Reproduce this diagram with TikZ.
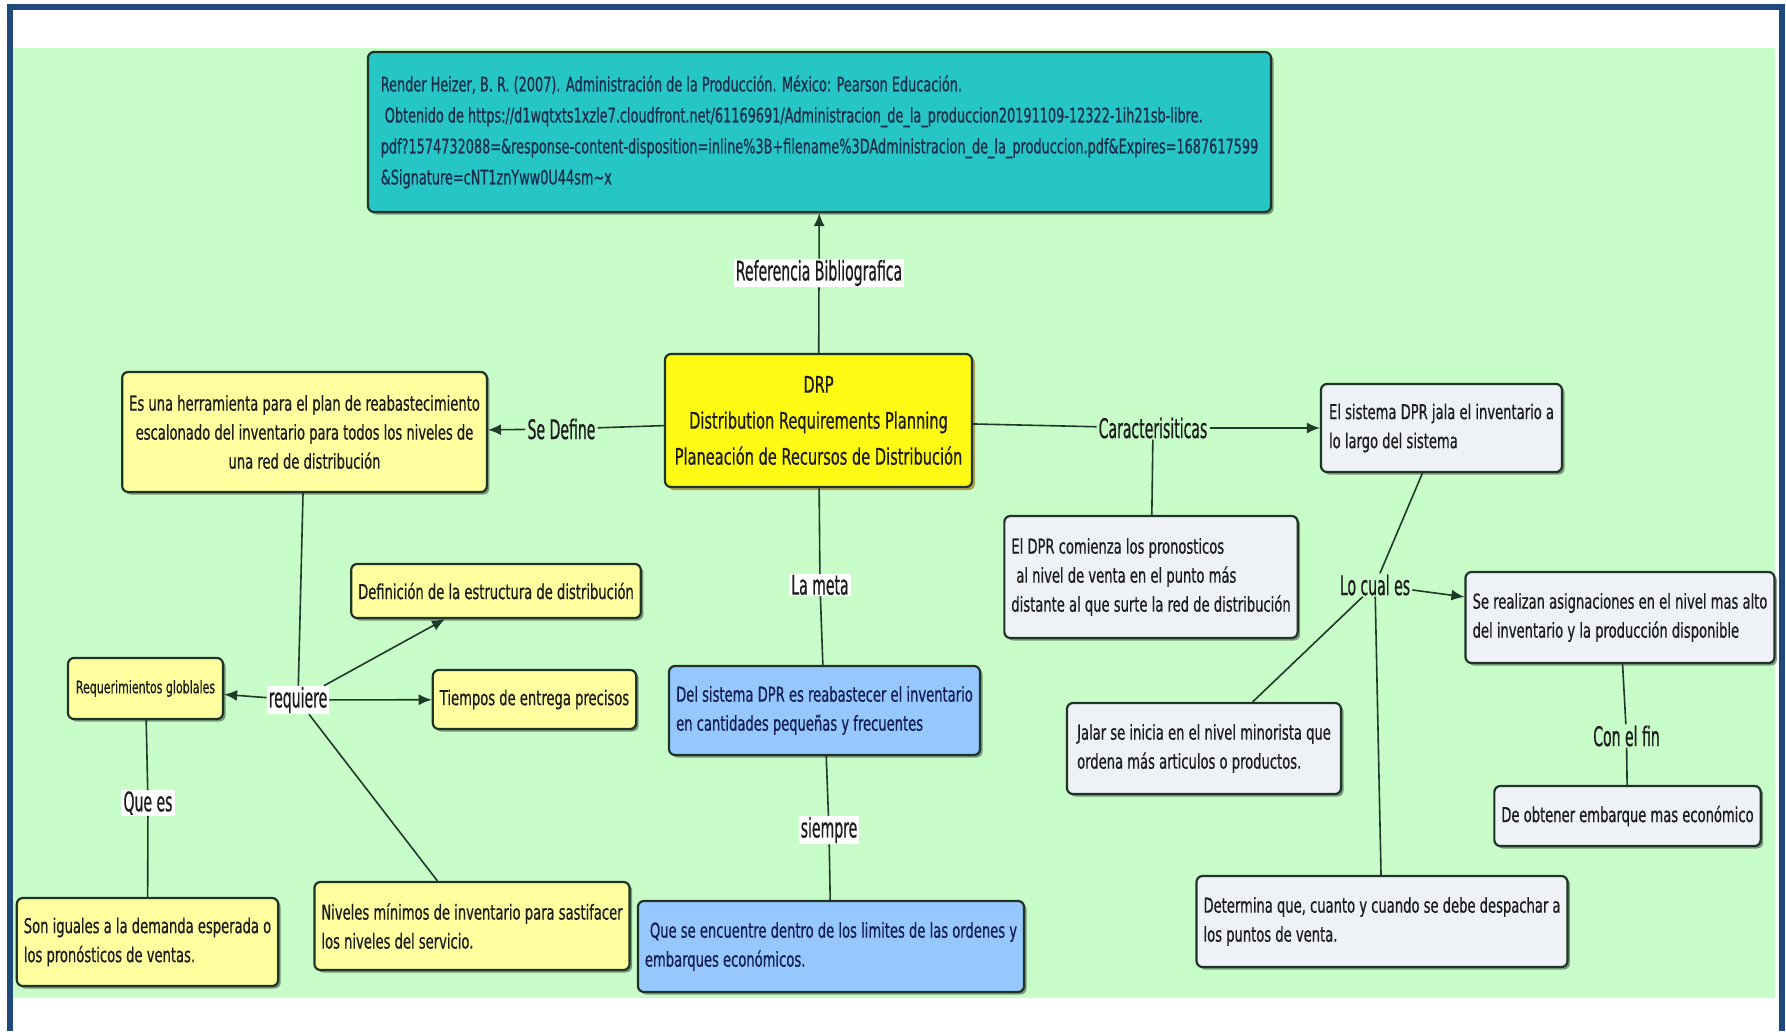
\documentclass[tikz,border=0pt]{standalone}
\usepackage{fontspec}
\setmainfont{DejaVu Sans}[FakeStretch=0.64, UprightFeatures={FakeBold=0.6}]
\newfontfamily\phrasefamily{DejaVu Sans}[FakeStretch=0.52, UprightFeatures={FakeBold=0.6}]
\usetikzlibrary{arrows.meta,shadows}

\definecolor{frameblue}{RGB}{31,73,125}
\definecolor{mapbg}{RGB}{200,252,200}
\definecolor{refteal}{RGB}{38,198,198}
\definecolor{drpyellow}{RGB}{255,250,20}
\definecolor{paleyellow}{RGB}{255,255,160}
\definecolor{paleblue}{RGB}{150,200,255}
\definecolor{palegray}{RGB}{238,242,246}
\definecolor{boxline}{RGB}{30,52,38}
\definecolor{wire}{RGB}{30,58,40}
\definecolor{ink}{RGB}{28,28,28}
\definecolor{refink}{RGB}{25,45,75}
\definecolor{blueink}{RGB}{20,30,80}
\definecolor{drpshade}{RGB}{160,120,30}

\newcommand\mapfont{\fontsize{20.5pt}{29pt}\selectfont}
\newcommand\drpfont{\fontsize{22.8pt}{36pt}\selectfont}
\newcommand\reffont{\fontsize{20.1pt}{31pt}\selectfont}
\newcommand\globfont{\fontsize{17.2pt}{20pt}\selectfont}
\newcommand\lblfont{\phrasefamily\fontsize{27pt}{30pt}\selectfont}

\begin{document}
\begin{tikzpicture}[x=1pt,y=-1pt,
  plainbox/.style={draw=boxline, line width=2.2pt, rounded corners=6pt,
    inner xsep=7pt, inner ysep=3pt, font=\mapfont, text=ink},
  concept/.style={plainbox, drop shadow={shadow xshift=2.5pt, shadow yshift=-2.5pt, opacity=0.4, fill=black}},
  hub/.style={plainbox, drop shadow={shadow xshift=3pt, shadow yshift=-3pt, opacity=0.7, fill=drpshade}},
  lbl/.style={fill=white, inner xsep=2pt, inner ysep=1pt, font=\lblfont, text=ink},
  lblg/.style={lbl, fill=mapbg},
  link/.style={draw=wire, line width=1.6pt},
  arr/.style={link, -{Latex[length=13pt,width=11pt]}},
]
\useasboundingbox (0,0) rectangle (1786,1031);
\fill[white] (0,0) rectangle (1786,1031);
\fill[mapbg] (13,48) rectangle (1775,998);
\draw[frameblue, line width=6pt] (9.5,1031) -- (9.5,6.5) -- (1781.5,6.5) -- (1781.5,1031);

% concepts
\node[concept, fill=refteal, text=refink, font=\reffont, align=left,
  minimum width=903pt, minimum height=160pt, inner xsep=5pt] (ref) at (819.5,132)
  {Render Heizer, B. R. (2007). Administración de la Producción. México: Pearson Educación.\\
   \hspace*{4pt}Obtenido de https://d1wqtxts1xzle7.cloudfront.net/61169691/Administracion\_de\_la\_produccion20191109-12322-1ih21sb-libre.\\
   pdf?1574732088=\&response-content-disposition=inline\%3B+filename\%3DAdministracion\_de\_la\_produccion.pdf\&Expires=1687617599\\
   \&Signature=cNT1znYww0U44sm\textasciitilde x};

\node[hub, fill=drpyellow, font=\drpfont, align=center,
  minimum width=307pt, minimum height=133pt] (drp) at (818.5,420.5)
  {DRP\\Distribution Requirements Planning\\Planeación de Recursos de Distribución};

\node[concept, fill=paleyellow, align=center, minimum width=363pt, minimum height=120pt] (herr) at (304.5,432)
  {Es una herramienta para el plan de reabastecimiento\\escalonado del inventario para todos los niveles de\\una red de distribución};

\node[concept, fill=palegray, align=left, minimum width=241pt, minimum height=88pt] (jala) at (1441.5,428)
  {El sistema DPR jala el inventario a\\lo largo del sistema};

\node[concept, fill=palegray, align=left, minimum width=292pt, minimum height=122pt] (comienza) at (1151,577)
  {El DPR comienza los pronosticos\\\hspace*{5pt}al nivel de venta en el punto más\\distante al que surte la red de distribución};

\node[concept, fill=palegray, align=left, minimum width=309pt, minimum height=91pt] (asig) at (1620,617.5)
  {Se realizan asignaciones en el nivel mas alto\\del inventario y la producción disponible};

\node[concept, fill=palegray, align=center, minimum width=255pt, minimum height=60pt] (embarque) at (1627.5,816)
  {De obtener embarque mas económico};

\node[concept, fill=palegray, align=left, minimum width=274pt, minimum height=91pt] (jalar) at (1204,748.5)
  {Jalar se inicia en el nivel minorista que\\ordena más articulos o productos.};

\node[concept, fill=palegray, align=left, minimum width=370pt, minimum height=91pt] (determina) at (1382,921.5)
  {Determina que, cuanto y cuando se debe despachar a\\los puntos de venta.};

\node[concept, fill=paleblue, text=blueink, align=left, minimum width=311pt, minimum height=89pt] (reab) at (824.5,710.5)
  {Del sistema DPR es reabastecer el inventario\\en cantidades pequeñas y frecuentes};

\node[concept, fill=paleblue, text=blueink, align=left, minimum width=386pt, minimum height=91pt] (limites) at (831,946.5)
  {\hspace*{5pt}Que se encuentre dentro de los limites de las ordenes y\\embarques económicos.};

\node[concept, fill=paleyellow, align=center, minimum width=284pt, minimum height=54pt] (estruct) at (496,591)
  {Definición de la estructura de distribución};

\node[concept, fill=paleyellow, font=\globfont, align=center, minimum width=155pt, minimum height=61pt] (glob) at (145.5,688.5)
  {Requerimientos globlales};

\node[concept, fill=paleyellow, align=center, minimum width=203pt, minimum height=59pt] (tiempos) at (534.5,699.5)
  {Tiempos de entrega precisos};

\node[concept, fill=paleyellow, align=left, minimum width=261pt, minimum height=88pt] (iguales) at (147.5,942)
  {Son iguales a la demanda esperada o\\los pronósticos de ventas.};

\node[concept, fill=paleyellow, align=left, minimum width=312pt, minimum height=88pt] (niveles) at (472,926)
  {Niveles mínimos de inventario para sastifacer\\los niveles del servicio.};

% linking phrases
\node[lbl]  (refl) at (819,273) {Referencia Bibliografica};
\node[lblg] (def) at (561.5,429) {Se Define};
\node[lblg] (car) at (1153,428) {Caracterisiticas};
\node[lbl]  (meta) at (820,585) {La meta};
\node[lbl]  (siem) at (829,830) {siempre};
\node[lblg] (cual) at (1375,585) {Lo cual es};
\node[lblg] (fin) at (1626.5,736) {Con el fin};
\node[lbl]  (req) at (298,700) {requiere};
\node[lbl]  (quees) at (148,803) {Que es};

% connectors
\draw[link] (drp) -- (refl);  \draw[arr] (refl) -- (ref);
\draw[link] (drp) -- (def);   \draw[arr] (def) -- (herr);
\draw[link] (drp) -- (car);   \draw[arr] (car) -- (jala);
\draw[link] (car) -- (comienza);
\draw[link] (drp) -- (meta);  \draw[link] (meta) -- (reab);
\draw[link] (reab) -- (siem); \draw[link] (siem) -- (limites);
\draw[link] (jala) -- (cual); \draw[arr] (cual) -- (asig);
\draw[link] (cual) -- (jalar); \draw[link] (cual) -- (determina);
\draw[link] (asig) -- (fin);  \draw[link] (fin) -- (embarque);
\draw[link] (herr) -- (req);
\draw[arr] (req) -- (glob);   \draw[arr] (req) -- (tiempos);
\draw[arr] (req) -- (estruct); \draw[link] (req) -- (niveles);
\draw[link] (glob) -- (quees); \draw[link] (quees) -- (iguales);
\end{tikzpicture}
\end{document}
